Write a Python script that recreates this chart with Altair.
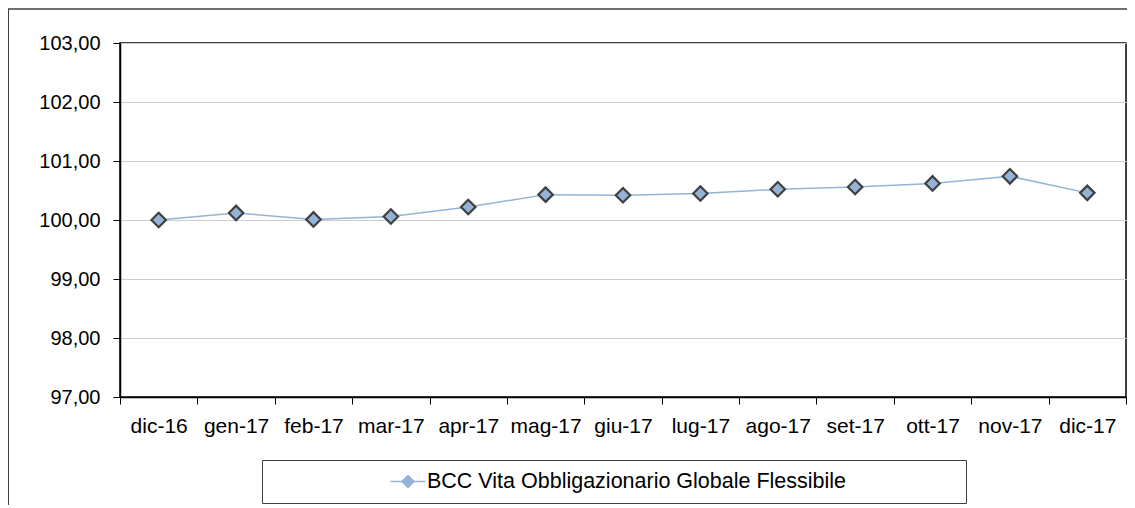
import altair as alt
import pandas as pd

months = ["dic-16", "gen-17", "feb-17", "mar-17", "apr-17", "mag-17", "giu-17",
          "lug-17", "ago-17", "set-17", "ott-17", "nov-17", "dic-17"]
values = [100.00, 100.12, 100.01, 100.06, 100.22, 100.43, 100.42,
          100.45, 100.52, 100.56, 100.62, 100.74, 100.46]
series_name = "BCC Vita Obbligazionario Globale Flessibile"
y_ticks = [97, 98, 99, 100, 101, 102, 103]

n = len(months)
df = pd.DataFrame({"idx": list(range(n)), "mese": months, "valore": values,
                   "serie": [series_name] * n})

W, H = 1006, 354
band = W / n
x_tick_vals = [i - 0.5 for i in range(n + 1)]
arr = "[" + ",".join("'" + m + "'" for m in months) + "]"
x_label_expr = f"datum.value < {n - 1} ? {arr}[round(datum.value + 0.5)] : ''"
y_label_expr = "replace(format(datum.value, '.2f'), '.', ',')"

FONT = "Liberation Sans"

x_enc = alt.X("idx:Q",
              scale=alt.Scale(domain=[-0.5, n - 0.5], nice=False, zero=False),
              axis=alt.Axis(values=x_tick_vals, labelExpr=x_label_expr,
                            labelOffset=band / 2, labelFlush=False,
                            labelOverlap=False, grid=False, title=None,
                            tickSize=7, labelPadding=11, labelFontSize=21,
                            labelColor="black", tickColor="black",
                            domainColor="black", domainWidth=1.5))
y_enc = alt.Y("valore:Q",
              scale=alt.Scale(domain=[97, 103], nice=False, zero=False),
              axis=alt.Axis(values=y_ticks, labelExpr=y_label_expr, title=None,
                            tickSize=7, labelPadding=13, labelFontSize=20,
                            labelColor="black", tickColor="black",
                            domainColor="black", domainWidth=1.5,
                            gridColor="#CDCDCD", gridWidth=1))

legend_symbol = "M-1.75,0H1.75M0,-0.6L0.6,0L0,0.6L-0.6,0Z"

frame = alt.Chart(alt.Data(values=[{}])).mark_rect(
    fillOpacity=0, stroke="#404040", strokeWidth=1.5
).encode(x=alt.value(-111.75), x2=alt.value(1300),
         y=alt.value(-34), y2=alt.value(700))

line = alt.Chart(df).mark_line(strokeWidth=1.5).encode(
    x=x_enc, y=y_enc,
    color=alt.Color("serie:N", scale=alt.Scale(range=["#95B3D7"]),
                    legend=alt.Legend(title=".", titleOrient="right",
                                      titleOpacity=0, titleFontSize=10,
                                      titlePadding=106,
                                      orient="none",
                                      legendX=142, legendY=417,
                                      strokeColor="#404040", fillColor="white",
                                      padding=10.5, symbolType=legend_symbol,
                                      symbolSize=400, symbolOffset=124.5,
                                      symbolStrokeColor="#8EAADB",
                                      symbolFillColor="#95B3D7",
                                      symbolStrokeWidth=1.5,
                                      labelOffset=8, labelFontSize=21.5,
                                      labelColor="black", labelLimit=900))
)

points = alt.Chart(df).mark_point(
    shape="diamond", filled=True, fill="#95B3D7", stroke="#404040",
    strokeWidth=2.2, size=210, opacity=1
).encode(x=x_enc, y=y_enc)

chart = alt.layer(frame, line, points).properties(
    width=W, height=H,
    autosize=alt.AutoSizeParams(type="none"),
    padding={"left": 112, "top": 35, "right": 1, "bottom": 108},
).configure(font=FONT).configure_view(stroke="black", strokeWidth=1.5)

chart.save("out.html", embed_options={"renderer": "svg", "actions": False})
